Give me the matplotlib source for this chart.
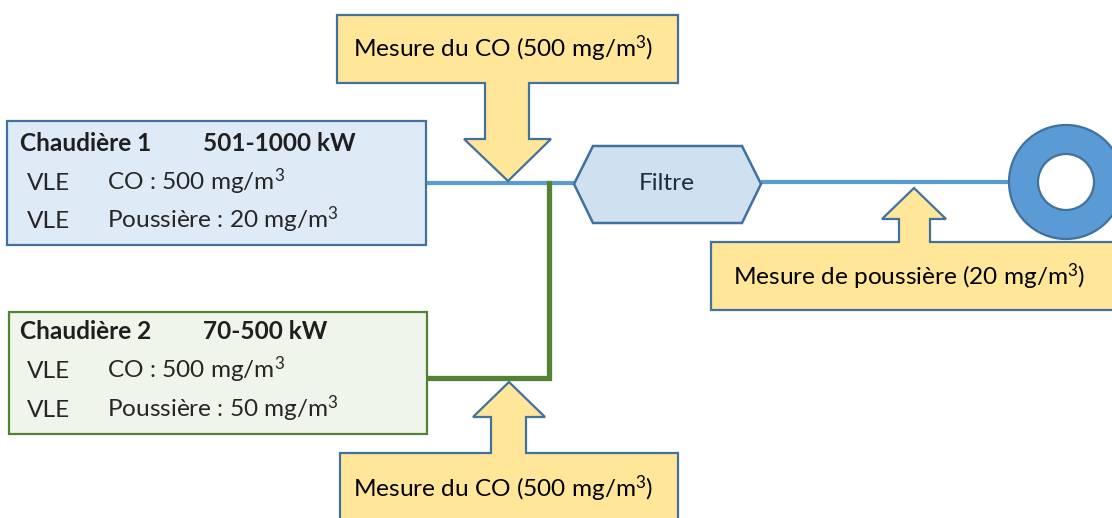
import matplotlib
matplotlib.use("Agg")
import matplotlib.pyplot as plt
from matplotlib.patches import Polygon, Rectangle, Circle

plt.rcParams["font.family"] = ["Lato", "DejaVu Sans"]
plt.rcParams["mathtext.fontset"] = "custom"
plt.rcParams["mathtext.rm"] = "Lato"
plt.rcParams["mathtext.it"] = "Lato"
plt.rcParams["mathtext.default"] = "rm"

# --- diagram content ---
BOILER_NAMES = ["Chaudière 1", "Chaudière 2"]
BOILER_POWER = ["501-1000 kW", "70-500 kW"]
VLE_CO = ["CO : 500 mg/m$^3$", "CO : 500 mg/m$^3$"]
VLE_DUST = ["Poussière : 20 mg/m$^3$", "Poussière : 50 mg/m$^3$"]
MEASURE_LABELS = ["Mesure du CO (500 mg/m$^3$)", "Mesure du CO (500 mg/m$^3$)",
                  "Mesure de poussière (20 mg/m$^3$)"]
FILTER_LABEL = "Filtre"

YELLOW = "#FFE699"
EDGE_BLUE = "#41719C"
LINE_BLUE = "#5B9BD5"
GREEN = "#548235"
TXT = "#1f1f1f"
FS = 17.6

fig = plt.figure(figsize=(11.12, 5.18), dpi=100)
ax = fig.add_axes([0, 0, 1, 1])
ax.set_xlim(0, 1112)
ax.set_ylim(518, 0)
ax.axis("off")

# pipes
ax.plot([426, 574], [183, 183], color=LINE_BLUE, lw=3, solid_capstyle="butt", zorder=1)
ax.plot([761, 1012], [182, 182], color=LINE_BLUE, lw=3, solid_capstyle="butt", zorder=1)
ax.plot([427, 549, 549], [378, 378, 183], color=GREEN, lw=3.8,
        solid_joinstyle="miter", zorder=1)

# boiler boxes: (x0, y0, x1, y1, fill, edge, baselines of the 3 rows)
boxes = [(7, 121, 426, 245, "#DEEBF7", EDGE_BLUE, (151, 190, 228)),
         (9, 312, 427, 434, "#F0F5EC", GREEN, (339, 378, 417))]
for i, (x0, y0, x1, y1, fc, ec, rows) in enumerate(boxes):
    ax.add_patch(Rectangle((x0, y0), x1 - x0, y1 - y0, fc=fc, ec=ec, lw=1.6, zorder=2))
    b0, b1, b2 = rows
    ax.text(20, b0, BOILER_NAMES[i], fontsize=FS, fontweight="bold", color=TXT,
            va="baseline", zorder=3)
    ax.text(203, b0, BOILER_POWER[i], fontsize=FS, fontweight="bold", color=TXT,
            va="baseline", zorder=3)
    ax.text(27, b1, "VLE", fontsize=FS, color="#262626", va="baseline", zorder=3)
    ax.text(107, b1, VLE_CO[i], fontsize=FS, color="#262626", va="baseline", zorder=3)
    ax.text(27, b2, "VLE", fontsize=FS, color="#262626", va="baseline", zorder=3)
    ax.text(107, b2, VLE_DUST[i], fontsize=FS, color="#262626", va="baseline", zorder=3)

# filter hexagon
hexa = [(574, 184), (593, 146), (742, 146), (761, 184), (742, 223), (593, 223)]
ax.add_patch(Polygon(hexa, closed=True, fc="#CFE0F1", ec=EDGE_BLUE, lw=1.8, zorder=2))
ax.text(667, 190, FILTER_LABEL, fontsize=FS, color="#1f2d3d", ha="center",
        va="baseline", zorder=3)

# fan / outlet donut
ax.add_patch(Circle((1066, 182), 57, fc=LINE_BLUE, ec=EDGE_BLUE, lw=1.6, zorder=2))
ax.add_patch(Circle((1066, 182), 28, fc="white", ec=EDGE_BLUE, lw=1.6, zorder=3))

# measurement callouts (box + arrow as one outline)
top_call = [(337, 15), (678, 15), (678, 83), (529, 83), (529, 139), (551, 139),
            (508, 181), (464, 139), (485, 139), (485, 83), (337, 83)]
bot_call = [(340, 453), (491, 453), (491, 417), (473, 417), (509, 382), (545, 417),
            (526, 417), (526, 453), (678, 453), (678, 530), (340, 530)]
dust_call = [(711, 242), (899, 242), (899, 219), (882, 219), (914, 188), (946, 219),
             (930, 219), (930, 242), (1120, 242), (1120, 310), (711, 310)]
for poly in (top_call, bot_call, dust_call):
    ax.add_patch(Polygon(poly, closed=True, fc=YELLOW, ec=EDGE_BLUE, lw=1.6,
                         joinstyle="miter", zorder=4))

ax.text(353, 57, MEASURE_LABELS[0], fontsize=FS, color="black", va="baseline", zorder=5)
ax.text(353, 497, MEASURE_LABELS[1], fontsize=FS, color="black", va="baseline", zorder=5)
ax.text(733, 285, MEASURE_LABELS[2], fontsize=FS, color="black", va="baseline", zorder=5)

fig.savefig("out.png", dpi=100)
